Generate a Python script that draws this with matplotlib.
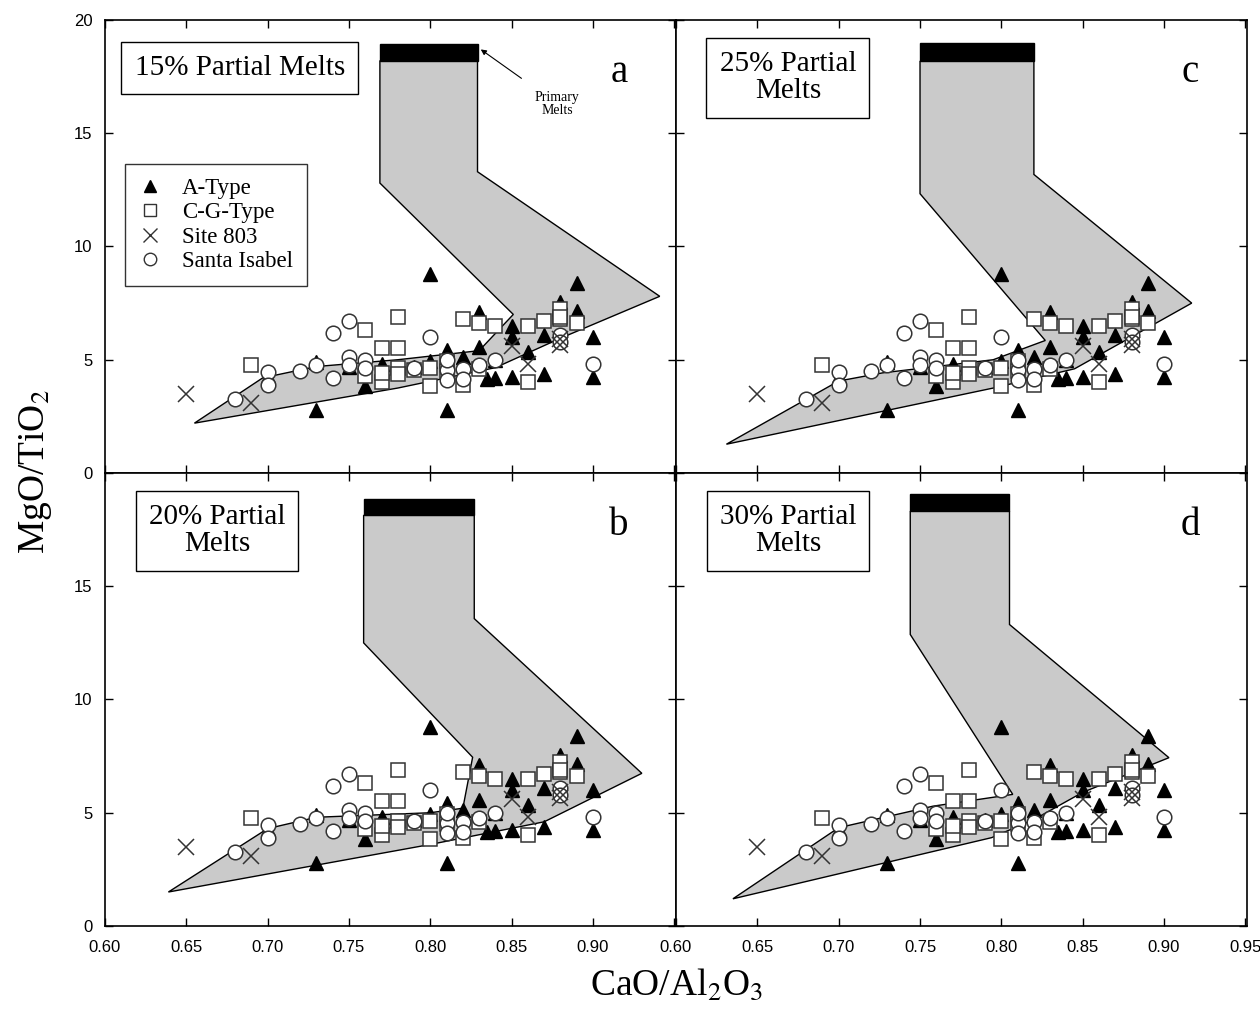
import matplotlib
matplotlib.use("Agg")
import matplotlib.pyplot as plt
from matplotlib.patches import Polygon, Rectangle
from matplotlib.lines import Line2D

plt.rcParams['font.family'] = ['Liberation Serif', 'DejaVu Serif']
plt.rcParams['mathtext.fontset'] = 'stix'

# sample data (same in all four panels)
a_type_x = [0.80, 0.89, 0.83, 0.88, 0.89, 0.85, 0.85, 0.90, 0.86, 0.83, 0.81, 0.82,
            0.73, 0.75, 0.77, 0.70, 0.76, 0.84, 0.85, 0.87, 0.90, 0.73, 0.81, 0.79,
            0.84, 0.87, 0.80, 0.82, 0.835]
a_type_y = [8.8, 8.4, 7.1, 7.55, 7.15, 6.5, 6.0, 6.0, 5.35, 5.55, 5.45, 5.1,
            4.9, 4.7, 4.8, 4.3, 3.85, 4.2, 4.25, 4.35, 4.25, 2.8, 2.8, 4.7,
            5.0, 6.1, 4.95, 4.4, 4.15]

cg_type_x = [0.69, 0.78, 0.76, 0.77, 0.78, 0.82, 0.83, 0.84, 0.86, 0.87, 0.88, 0.88,
             0.89, 0.76, 0.77, 0.78, 0.78, 0.79, 0.80, 0.80, 0.81, 0.81, 0.82, 0.86,
             0.77, 0.83, 0.88]
cg_type_y = [4.75, 6.9, 6.3, 5.5, 5.5, 6.8, 6.6, 6.5, 6.5, 6.7, 7.25, 6.8,
             6.6, 4.3, 4.0, 4.65, 4.35, 4.55, 4.65, 3.85, 4.95, 4.5, 3.9, 4.0,
             4.4, 4.6, 6.9]

site803_x = [0.65, 0.69, 0.88, 0.85, 0.86, 0.88]
site803_y = [3.5, 3.1, 5.65, 5.6, 4.8, 5.9]

santa_x = [0.74, 0.75, 0.80, 0.75, 0.76, 0.70, 0.70, 0.68, 0.72, 0.73, 0.74, 0.75,
           0.79, 0.81, 0.81, 0.82, 0.82, 0.83, 0.84, 0.88, 0.90, 0.88, 0.76, 0.81]
santa_y = [6.2, 6.7, 6.0, 5.1, 5.0, 4.45, 3.9, 3.25, 4.5, 4.75, 4.2, 4.75,
           4.65, 4.55, 4.1, 4.6, 4.15, 4.75, 5.0, 6.1, 4.8, 5.8, 4.65, 5.0]

# model melt fields for each degree of partial melting
field_a = [(0.655, 2.2), (0.697, 4.2), (0.73, 4.7), (0.78, 5.0), (0.83, 5.4), (0.851, 7.0),
           (0.769, 12.8), (0.769, 18.2), (0.829, 18.2), (0.829, 13.3), (0.941, 7.8),
           (0.88, 5.95), (0.84, 4.65), (0.78, 3.75)]
field_b = [(0.639, 1.5), (0.70, 4.3), (0.73, 4.8), (0.80, 5.0), (0.82, 5.2), (0.826, 7.45),
           (0.759, 12.5), (0.759, 18.13), (0.827, 18.13), (0.827, 13.57), (0.930, 6.74),
           (0.87, 4.6), (0.80, 3.6)]
field_c = [(0.631, 1.27), (0.70, 4.06), (0.727, 4.42), (0.795, 5.0), (0.827, 5.85),
           (0.75, 12.33), (0.75, 18.18), (0.82, 18.18), (0.82, 13.18), (0.917, 7.5),
           (0.845, 4.6), (0.795, 3.75)]
field_d = [(0.635, 1.2), (0.70, 4.34), (0.758, 5.29), (0.807, 5.81),
           (0.744, 12.87), (0.744, 18.31), (0.805, 18.31), (0.805, 13.31), (0.903, 7.43),
           (0.85, 5.9), (0.82, 4.7), (0.794, 3.9)]

# black primary-melt bars: (x0, x1, y0, y1)
bar_a = (0.769, 0.829, 18.2, 18.92)
bar_b = (0.759, 0.827, 18.13, 18.87)
bar_c = (0.75, 0.82, 18.18, 18.99)
bar_d = (0.744, 0.805, 18.31, 19.09)

titles = ["15% Partial Melts", "20% Partial\nMelts", "25% Partial\nMelts", "30% Partial\nMelts"]
letters = ["a", "b", "c", "d"]

fig, axes = plt.subplots(2, 2, figsize=(12.6, 10.14), dpi=100)
fig.subplots_adjust(left=0.0833, right=0.9897, top=0.9803, bottom=0.0868, wspace=0, hspace=0)

panels = [(axes[0, 0], field_a, bar_a, titles[0], letters[0], (0.236, 0.894)),
          (axes[1, 0], field_b, bar_b, titles[1], letters[1], (0.196, 0.872)),
          (axes[0, 1], field_c, bar_c, titles[2], letters[2], (0.196, 0.872)),
          (axes[1, 1], field_d, bar_d, titles[3], letters[3], (0.196, 0.872))]

for ax, field, bar, title, letter, tpos in panels:
    ax.add_patch(Polygon(field, closed=True, facecolor='#cacaca', edgecolor='black', lw=1.0, zorder=1))
    ax.add_patch(Rectangle((bar[0], bar[2]), bar[1] - bar[0], bar[3] - bar[2],
                           facecolor='black', edgecolor='black', zorder=2))

    ax.plot(a_type_x, a_type_y, '^', color='black', ms=10.5, zorder=3)
    ax.plot(cg_type_x, cg_type_y, 's', mfc='white', mec='#333333', mew=1.1, ms=10.5, zorder=4)
    ax.plot(santa_x, santa_y, 'o', mfc='white', mec='#333333', mew=1.1, ms=10.5, zorder=4)
    ax.plot(site803_x, site803_y, 'x', color='#333333', mew=1.1, ms=12, zorder=5)

    ax.text(tpos[0], tpos[1], title, transform=ax.transAxes, ha='center', va='center',
            fontsize=21, linespacing=1.05,
            bbox=dict(boxstyle='square,pad=0.45', facecolor='white', edgecolor='black', lw=1))
    ax.text(0.90, 0.885, letter, transform=ax.transAxes, ha='center', va='center', fontsize=28)

    ax.set_xlim(0.60, 0.951)
    ax.set_ylim(0, 20)
    ax.set_xticks([0.60, 0.65, 0.70, 0.75, 0.80, 0.85, 0.90, 0.95])
    ax.set_yticks([0, 5, 10, 15, 20])
    ax.tick_params(direction='in', top=True, right=True, length=6, width=1)
    ax.tick_params(axis='x', pad=10)
    ax.tick_params(axis='y', pad=9)
    for s in ax.spines.values():
        s.set_linewidth(1.2)
    ax.set_xticklabels([])
    ax.set_yticklabels([])

tick_font = dict(family='Liberation Sans', fontsize=12)
axes[1, 0].set_xticklabels(['0.60', '0.65', '0.70', '0.75', '0.80', '0.85', '0.90', ''], **tick_font)
axes[1, 1].set_xticklabels(['0.60', '0.65', '0.70', '0.75', '0.80', '0.85', '0.90', '0.95'], **tick_font)
axes[0, 0].set_yticklabels(['0', '5', '10', '15', '20'], **tick_font)
axes[1, 0].set_yticklabels(['0', '5', '10', '15', ''], **tick_font)

# legend in panel a
handles = [Line2D([], [], ls='none', marker='^', color='black', ms=9),
           Line2D([], [], ls='none', marker='s', mfc='white', mec='#333333', ms=9),
           Line2D([], [], ls='none', marker='x', color='#333333', ms=10),
           Line2D([], [], ls='none', marker='o', mfc='white', mec='#333333', ms=9)]
leg = axes[0, 0].legend(handles, ["A-Type", "C-G-Type", "Site 803", "Santa Isabel"],
                        loc='upper left', bbox_to_anchor=(0.035, 0.682), borderaxespad=0,
                        fontsize=16.5, frameon=True, fancybox=False, edgecolor='black',
                        handlelength=1.0, handletextpad=0.9, labelspacing=0.15, borderpad=0.6)
leg.get_frame().set_linewidth(1)

axes[0, 0].annotate("Primary\nMelts", xy=(0.831, 18.7), xytext=(0.878, 16.3),
                    ha='center', va='center', fontsize=10, linespacing=1.0,
                    arrowprops=dict(arrowstyle='-|>', color='black', lw=0.8, mutation_scale=8,
                                    shrinkA=12, shrinkB=0))

fig.text(0.028, 0.535, r"MgO/TiO$_2$", rotation=90, ha='center', va='center', fontsize=27)
fig.text(0.537, 0.028, r"CaO/Al$_2$O$_3$", ha='center', va='center', fontsize=27)

plt.savefig("out.png", dpi=100)
